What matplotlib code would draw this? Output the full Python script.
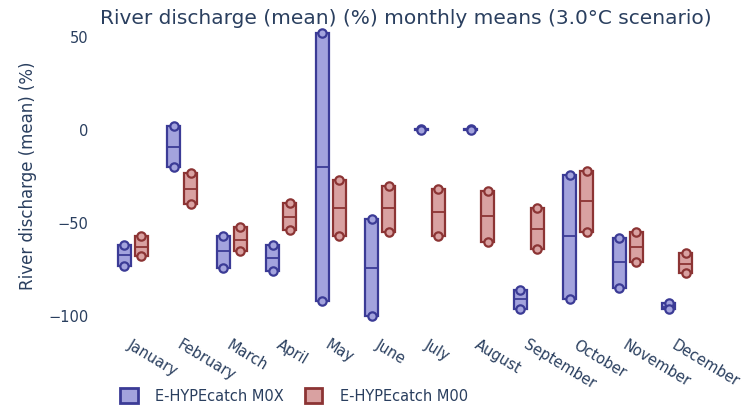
import matplotlib
matplotlib.use("Agg")
import matplotlib.pyplot as plt
import matplotlib.transforms as mtransforms
from matplotlib.patches import Patch
import numpy as np

months = ["January", "February", "March", "April", "May", "June", "July",
          "August", "September", "October", "November", "December"]

m0x_min = [-73, -20, -74, -76, -92, -100, 0.0, 0.0, -96, -91, -85, -96]
m0x_med = [-67, -9, -65, -69, -20, -74, 0.2, 0.2, -91, -57, -71, -95]
m0x_max = [-62, 2, -57, -62, 52, -48, 0.5, 0.5, -86, -24, -58, -93]

m00_min = [-68, -40, -65, -54, -57, -55, -57, -60, -64, -55, -71, -77]
m00_med = [-63, -32, -59, -47, -42, -42, -44, -46, -53, -38, -63, -72]
m00_max = [-57, -23, -52, -39, -27, -30, -32, -33, -42, -22, -55, -66]

series_names = ["E-HYPEcatch M0X", "E-HYPEcatch M00"]

TXT = "#2a3f5f"
BLUE_F, BLUE_E = "#a3a3dd", "#3b3b96"
RED_F, RED_E = "#d9a1a1", "#8c3434"

plt.rcParams["font.family"] = ["DejaVu Sans"]

fig = plt.figure(figsize=(7.43, 4.07), dpi=100)
ax = fig.add_axes([108 / 743, 1 - 323.4 / 407, (702 - 108) / 743, (323.4 - 27.7) / 407])

x = np.arange(len(months))
off = 0.17
w = 0.26

def draw(xpos, lo, med, hi, fc, ec):
    lo = np.array(lo); med = np.array(med); hi = np.array(hi)
    ax.bar(xpos, hi - lo, bottom=lo, width=w, facecolor=fc, edgecolor=ec,
           linewidth=1.6, zorder=2)
    ax.hlines(med, xpos - w / 2, xpos + w / 2, colors=ec, linewidth=1.3, zorder=3)
    ax.plot(xpos, hi, "o", ms=6, mfc=fc, mec=ec, mew=1.6, ls="none", zorder=4)
    ax.plot(xpos, lo, "o", ms=6, mfc=fc, mec=ec, mew=1.6, ls="none", zorder=4)

draw(x - off, m0x_min, m0x_med, m0x_max, BLUE_F, BLUE_E)
draw(x + off, m00_min, m00_med, m00_max, RED_F, RED_E)

ax.set_xlim(-0.5, len(months) - 0.5)
ax.set_ylim(-104, 55)
ax.set_yticks([-100, -50, 0, 50])
ax.set_yticklabels(["\u2212100", "\u221250", "0", "50"])
ax.set_xticks(x)
ax.set_xticklabels(months, rotation=-31, ha="left", va="top", rotation_mode="anchor")
shift = mtransforms.ScaledTranslation(5 / 100, 0, fig.dpi_scale_trans)
for lbl in ax.get_xticklabels():
    lbl.set_transform(lbl.get_transform() + shift)
ax.tick_params(axis="both", length=0, labelsize=10.5, labelcolor=TXT)
ax.tick_params(axis="x", pad=10)
ax.tick_params(axis="y", pad=14)
for s in ax.spines.values():
    s.set_visible(False)

ax.set_ylabel("River discharge (mean) (%)", fontsize=12, color=TXT)
ax.yaxis.set_label_coords(-0.12, 0.5)
fig.text(406 / 743, 1 - 18 / 407, "River discharge (mean) (%) monthly means (3.0\u00b0C scenario)",
         ha="center", va="center", fontsize=14.5, color=TXT)

handles = [Patch(facecolor=BLUE_F, edgecolor=BLUE_E, linewidth=2),
           Patch(facecolor=RED_F, edgecolor=RED_E, linewidth=2)]
leg = fig.legend(handles, series_names, loc="center left",
                 bbox_to_anchor=(120 / 743, 1 - 396 / 407), ncol=2, frameon=False,
                 fontsize=10.5, handlelength=1.2, handleheight=1.2,
                 columnspacing=1.45, handletextpad=1.2, borderaxespad=0, borderpad=0)
for t in leg.get_texts():
    t.set_color(TXT)

fig.savefig("out.png", dpi=100)
